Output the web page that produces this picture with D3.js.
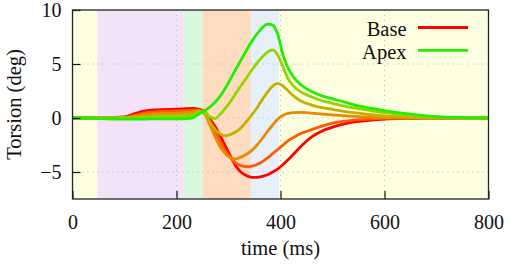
<!DOCTYPE html>
<html>
<head>
<meta charset="utf-8">
<script src="https://cdn.jsdelivr.net/npm/d3@7"></script>
<style>
  body { margin: 0; background: #fff; }
  svg text { font-family: 'Liberation Serif', 'DejaVu Serif', serif; fill: #111; }
</style>
</head>
<body>
<div id="chart"></div>
<script>
// time samples (ms)
const times = [0, 50, 100, 120, 140, 160, 200, 230, 245, 255, 265, 275, 285, 295, 305, 315, 325, 335, 345, 355,
  365, 375, 385, 395, 405, 415, 425, 440, 460, 480, 500, 525, 550, 575, 600, 650, 700, 800]

// torsion (deg), base -> apex
const base = [0, 0, 0.1, 0.4, 0.65, 0.75, 0.82, 0.88, 0.8, 0.55, -0.15, -0.85, -1.75, -2.7, -3.65, -4.5, -5.05, -5.35, -5.5, -5.5,
  -5.4, -5.25, -5.0, -4.7, -4.3, -3.85, -3.35, -2.6, -1.75, -1.2, -0.85, -0.52, -0.32, -0.19, -0.1, -0.03, 0, 0]
const level2 = [0, 0, 0.05, 0.25, 0.48, 0.58, 0.65, 0.72, 0.72, 0.45, -0.45, -1.35, -2.3, -3.1, -3.75, -4.2, -4.42, -4.5, -4.45, -4.3,
  -4.05, -3.7, -3.3, -2.9, -2.5, -2.1, -1.8, -1.42, -1.08, -0.75, -0.48, -0.28, -0.15, -0.08, -0.04, -0.01, 0, 0]
const level3 = [0, 0, 0.02, 0.15, 0.3, 0.38, 0.45, 0.55, 0.66, 0.3, -0.7, -1.8, -2.75, -3.35, -3.72, -3.78, -3.6, -3.35, -3.0, -2.5,
  -1.9, -1.25, -0.65, -0.1, 0.25, 0.42, 0.5, 0.52, 0.45, 0.36, 0.28, 0.2, 0.12, 0.07, 0.04, 0.01, 0, 0]
const level4 = [0, 0, 0, 0.06, 0.15, 0.22, 0.28, 0.4, 0.6, 0.35, -0.45, -1.1, -1.5, -1.65, -1.5, -1.25, -0.85, -0.3, 0.3, 0.95,
  1.7, 2.4, 2.95, 3.2, 2.95, 2.5, 2.05, 1.55, 1.2, 0.95, 0.8, 0.58, 0.45, 0.3, 0.2, 0.07, 0.01, 0]
const level5 = [0, 0, 0, 0.02, 0.06, 0.08, 0.12, 0.2, 0.52, 0.5, 0.1, -0.05, 0.4, 0.95, 1.6, 2.35, 3.05, 3.75, 4.45, 5.1,
  5.65, 6.1, 6.3, 5.8, 4.7, 3.6, 2.95, 2.4, 1.95, 1.6, 1.35, 1.08, 0.86, 0.66, 0.5, 0.22, 0.07, 0]
const apex = [0, -0.05, -0.1, -0.1, -0.1, -0.08, -0.08, 0, 0.42, 0.7, 1.05, 1.5, 2.1, 2.85, 3.7, 4.6, 5.45, 6.3, 7.1, 7.8,
  8.35, 8.7, 8.6, 7.7, 5.8, 4.6, 3.8, 3.05, 2.45, 2.05, 1.78, 1.45, 1.12, 0.88, 0.68, 0.35, 0.12, 0]

const seriesValues = [base, level2, level3, level4, level5, apex]
const seriesColors = ['#ff0000', '#ff5a00', '#e88a00', '#c4b000', '#96d400', '#22ee00']

// cardiac phase bands (ms)
const phaseStart = [0, 48, 214, 250, 343, 397]
const phaseEnd = [48, 214, 250, 343, 397, 800]
const phaseColors = ['#fefee0', '#f3e2f8', '#daf8de', '#fddcbf', '#e6f0fb', '#fefee0']

const xTicks = [0, 200, 400, 600, 800]
const yTicks = [-5, 0, 5, 10]
const legendNames = ['Base', 'Apex']

const width = 510
const height = 267

const svg = d3.select('#chart')
  .append('svg')
  .attr('width', width)
  .attr('height', height)

const x = d3.scaleLinear().domain([0, 800]).range([72.5, 488.5])
const y = d3.scaleLinear().domain([-7.5, 10]).range([199, 10])

// bands
svg.selectAll('.phase')
  .data(phaseStart)
  .enter()
  .append('rect')
  .attr('class', 'phase')
  .attr('x', d => x(d))
  .attr('y', y(10))
  .attr('width', (d, i) => x(phaseEnd[i]) - x(d))
  .attr('height', y(-7.5) - y(10))
  .style('fill', (d, i) => phaseColors[i])

// dotted grid
const grid = svg.append('g').attr('class', 'grid')
grid.selectAll('.gx')
  .data([200, 400, 600])
  .enter()
  .append('line')
  .attr('x1', d => x(d)).attr('x2', d => x(d))
  .attr('y1', y(10)).attr('y2', y(-7.5))
grid.selectAll('.gy')
  .data([-5, 0, 5])
  .enter()
  .append('line')
  .attr('x1', x(0)).attr('x2', x(800))
  .attr('y1', d => y(d)).attr('y2', d => y(d))
grid.selectAll('line')
  .style('stroke', '#b8b8b8')
  .style('stroke-width', 1)
  .style('stroke-dasharray', '1,4')

// curves
const line = d3.line()
  .x((d, i) => x(times[i]))
  .y(d => y(d))
  .curve(d3.curveMonotoneX)

svg.selectAll('.torsion')
  .data(seriesValues)
  .enter()
  .append('path')
  .attr('class', 'torsion')
  .attr('d', d => line(d))
  .style('fill', 'none')
  .style('stroke', (d, i) => seriesColors[i])
  .style('stroke-width', 2.8)
  .style('stroke-linejoin', 'round')

// axes
const xAxis = d3.axisBottom(x).tickValues(xTicks).tickSize(-8).tickPadding(16)
const yAxis = d3.axisLeft(y).tickValues(yTicks).tickSize(-8).tickPadding(11)

const gx = svg.append('g')
  .attr('transform', 'translate(0,' + y(-7.5) + ')')
  .call(xAxis)
const gy = svg.append('g')
  .attr('transform', 'translate(' + x(0) + ',0)')
  .call(yAxis)

svg.selectAll('.domain').remove()
svg.selectAll('.tick line').style('stroke', '#111').style('stroke-width', 1.2)
svg.selectAll('.tick text')
  .style('font-size', '20px')
  .style('font-family', "'Liberation Serif', 'DejaVu Serif', serif")
  .style('fill', '#111')
gy.selectAll('.tick text').attr('dy', '0.34em')

// frame
svg.append('rect')
  .attr('x', x(0))
  .attr('y', y(10))
  .attr('width', x(800) - x(0))
  .attr('height', y(-7.5) - y(10))
  .style('fill', 'none')
  .style('stroke', '#222')
  .style('stroke-width', 1.3)

// titles
svg.append('text')
  .attr('x', (x(0) + x(800)) / 2)
  .attr('y', 255)
  .attr('text-anchor', 'middle')
  .style('font-size', '20.5px')
  .text('time (ms)')

svg.append('text')
  .attr('transform', 'translate(21,' + y(1.25) + ') rotate(-90)')
  .attr('text-anchor', 'middle')
  .style('font-size', '20.5px')
  .text('Torsion (deg)')

// legend
const legend = svg.selectAll('.legend')
  .data(legendNames)
  .enter()
  .append('g')
  .attr('class', 'legend')
  .attr('transform', (d, i) => 'translate(0,' + (27.5 + i * 22.8) + ')')

legend.append('text')
  .attr('x', 406.5)
  .attr('y', 8.5)
  .attr('text-anchor', 'end')
  .style('font-size', '20.5px')
  .text(d => d)

legend.append('line')
  .attr('x1', 418)
  .attr('x2', 468)
  .attr('y1', 0)
  .attr('y2', 0)
  .style('stroke', (d, i) => i === 0 ? seriesColors[0] : seriesColors[seriesColors.length - 1])
  .style('stroke-width', 2.8)
</script>
</body>
</html>
